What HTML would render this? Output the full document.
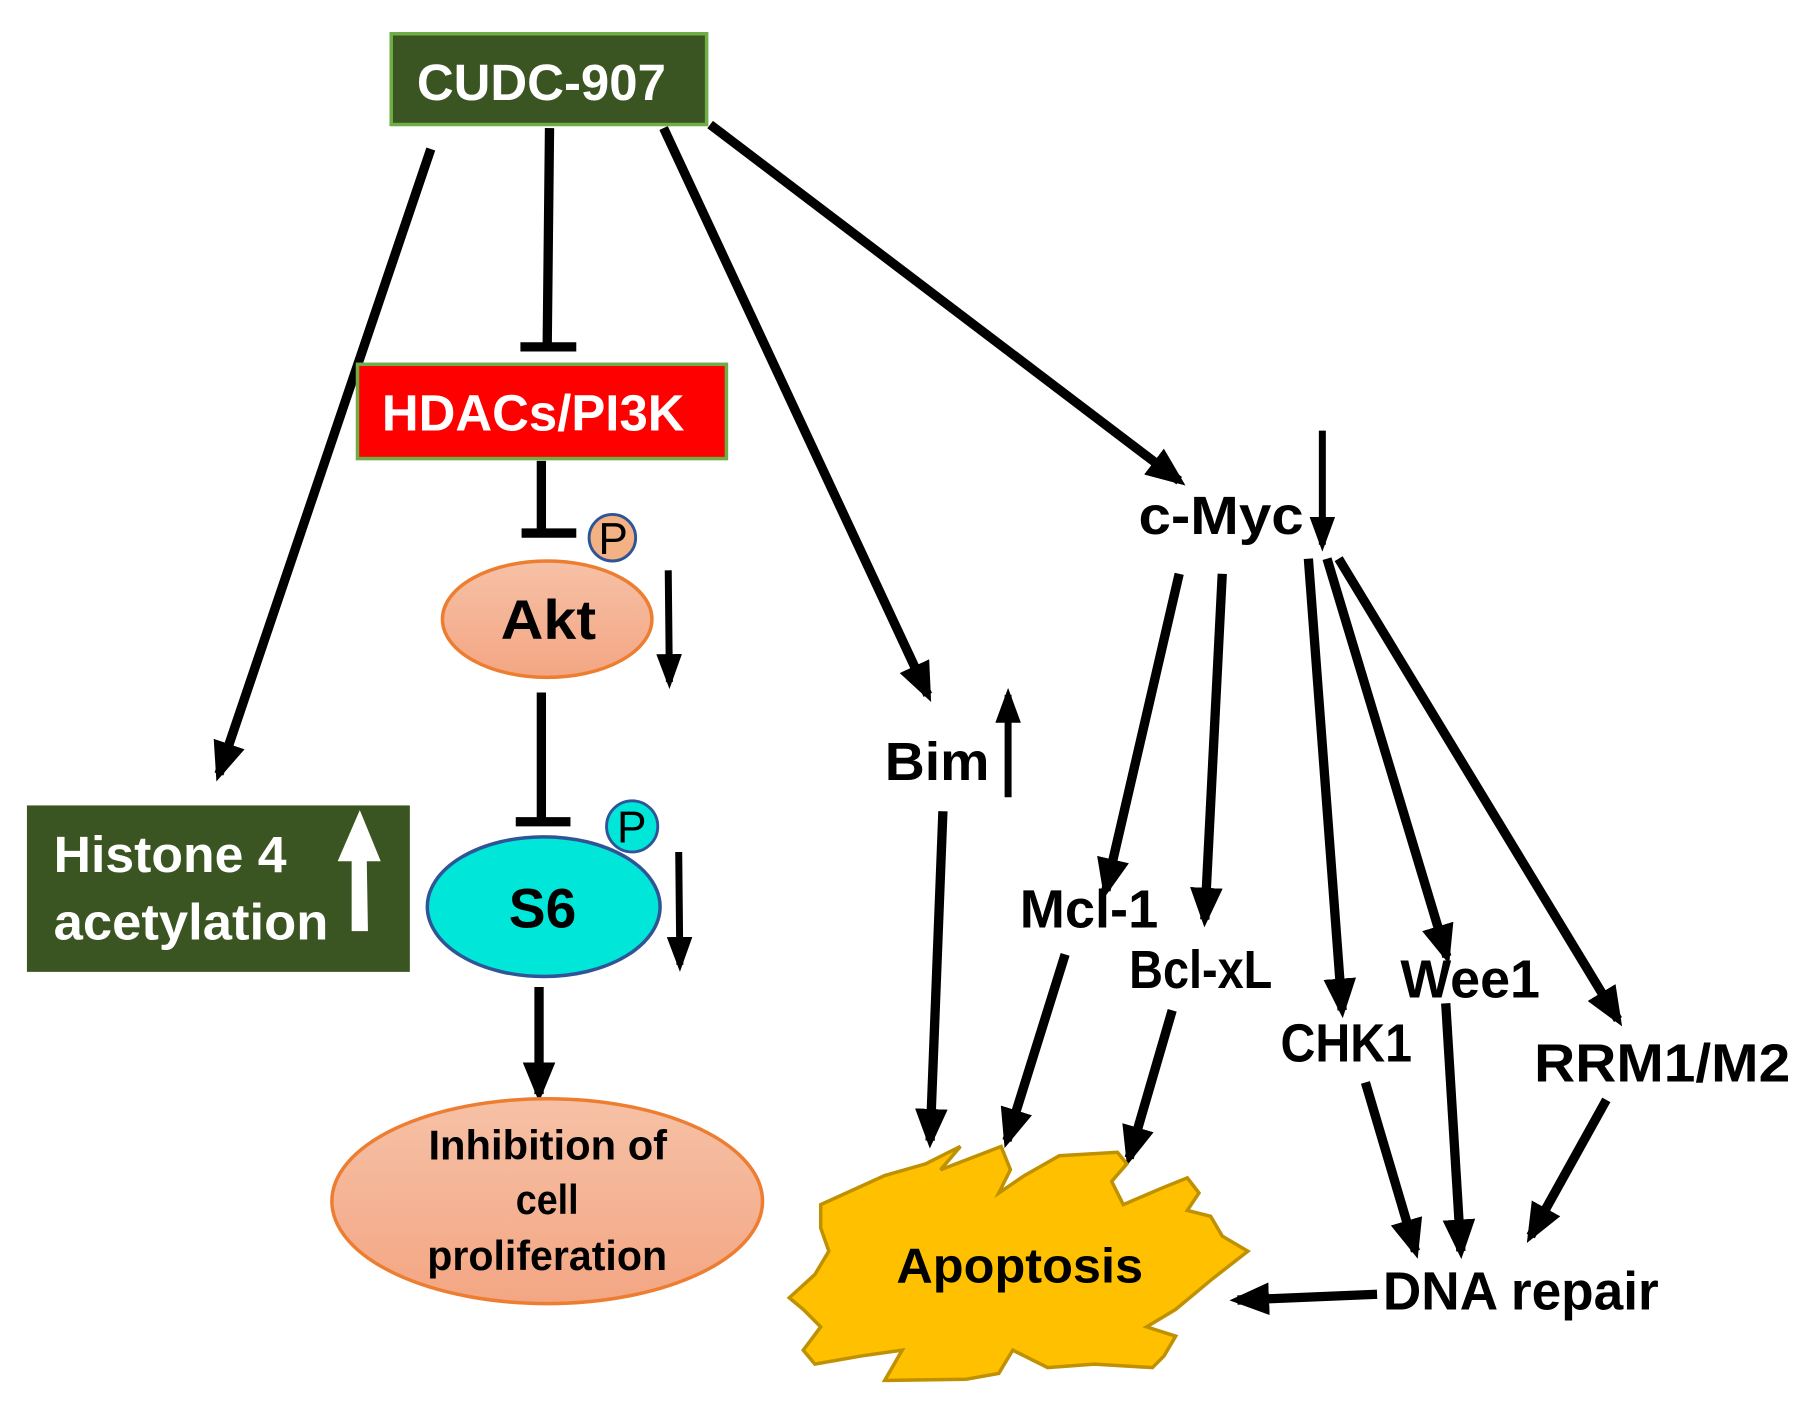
<!DOCTYPE html>
<html><head><meta charset="utf-8"><style>html,body{margin:0;padding:0;background:#fff}svg{display:block}</style></head>
<body>
<svg width="1816" height="1406" viewBox="0 0 1560 1208" xmlns="http://www.w3.org/2000/svg" font-family="'Liberation Sans', sans-serif" font-weight="bold">
<defs>
<marker id="a" viewBox="0 0 10 10" refX="8" refY="5" markerUnits="userSpaceOnUse" markerWidth="34" markerHeight="28" preserveAspectRatio="none" orient="auto"><path d="M0,0 L10,5 L0,10 Z" fill="#000"/></marker>
<marker id="s" viewBox="0 0 10 10" refX="8" refY="5" markerUnits="userSpaceOnUse" markerWidth="30" markerHeight="22" preserveAspectRatio="none" orient="auto"><path d="M0,0 L10,5 L0,10 Z" fill="#000"/></marker>
<linearGradient id="og" x1="0" y1="0" x2="0" y2="1"><stop offset="0" stop-color="#f6c1a6"/><stop offset="1" stop-color="#f3a683"/></linearGradient>
</defs>
<g stroke="#000" stroke-width="8" fill="none">
<line x1="370" y1="128" x2="188" y2="665" marker-end="url(#a)"/>
<line x1="472" y1="110" x2="470" y2="298"/><line x1="447" y1="298" x2="495" y2="298"/>
<line x1="465" y1="396" x2="465" y2="458"/><line x1="448" y1="458" x2="495" y2="458"/>
<line x1="465" y1="595" x2="465" y2="706"/><line x1="443" y1="706" x2="490" y2="706"/>
<line x1="463" y1="848" x2="463" y2="940" marker-end="url(#a)"/>
<line x1="570" y1="110" x2="797" y2="597" marker-end="url(#a)"/>
<line x1="610" y1="107" x2="1013" y2="413" marker-end="url(#a)"/>
<line x1="1013" y1="493" x2="950" y2="765" marker-end="url(#a)"/>
<line x1="1050" y1="493" x2="1035" y2="790" marker-end="url(#a)"/>
<line x1="1124" y1="480" x2="1153" y2="868" marker-end="url(#a)"/>
<line x1="1140" y1="480" x2="1243" y2="822" marker-end="url(#a)"/>
<line x1="1150" y1="480" x2="1390" y2="876" marker-end="url(#a)"/>
<line x1="810" y1="697" x2="799" y2="980" marker-end="url(#a)"/>
<line x1="915" y1="820" x2="865" y2="980" marker-end="url(#a)"/>
<line x1="1007" y1="868" x2="970" y2="995" marker-end="url(#a)"/>
<line x1="1173" y1="930" x2="1216" y2="1075" marker-end="url(#a)"/>
<line x1="1242" y1="862" x2="1255" y2="1075" marker-end="url(#a)"/>
<line x1="1380" y1="945" x2="1315" y2="1062" marker-end="url(#a)"/>
<line x1="1183" y1="1112" x2="1063" y2="1117" marker-end="url(#a)"/>
</g>
<g stroke="#000" stroke-width="6">
<line x1="574" y1="490" x2="575" y2="586" marker-end="url(#s)"/>
<line x1="583" y1="732" x2="584" y2="829" marker-end="url(#s)"/>
<line x1="866" y1="685" x2="866" y2="597" marker-end="url(#s)"/>
<line x1="1136" y1="370" x2="1136" y2="468" marker-end="url(#s)"/>
</g>
<rect x="336" y="29" width="271" height="78" fill="#3a5522" stroke="#70ad47" stroke-width="3"/>
<text x="358" y="86" font-size="44" fill="#fff" textLength="214" lengthAdjust="spacingAndGlyphs">CUDC-907</text>
<rect x="307" y="313" width="317" height="81" fill="#ff0000" stroke="#70ad47" stroke-width="3"/>
<text x="328" y="370" font-size="44" fill="#fff" textLength="260" lengthAdjust="spacingAndGlyphs">HDACs/PI3K</text>
<ellipse cx="470" cy="532" rx="90" ry="50" fill="url(#og)" stroke="#ed7d31" stroke-width="3"/>
<text x="430" y="549" font-size="48" fill="#000" textLength="82" lengthAdjust="spacingAndGlyphs">Akt</text>
<circle cx="526" cy="462" r="20" fill="#f4b183" stroke="#2f5597" stroke-width="2.5"/>
<text x="514" y="476" font-size="38" font-weight="normal" fill="#000">P</text>
<ellipse cx="467" cy="779" rx="100" ry="60" fill="#00e6d8" stroke="#2f5597" stroke-width="3"/>
<text x="437" y="797" font-size="48" fill="#000" textLength="58" lengthAdjust="spacingAndGlyphs">S6</text>
<circle cx="543" cy="710" r="22" fill="#00e6d8" stroke="#2f5597" stroke-width="2.5"/>
<text x="530" y="724" font-size="38" font-weight="normal" fill="#000">P</text>
<ellipse cx="470" cy="1032" rx="185" ry="88" fill="url(#og)" stroke="#ed7d31" stroke-width="3"/>
<text x="368" y="996" font-size="36" fill="#000" textLength="205" lengthAdjust="spacingAndGlyphs">Inhibition of</text>
<text x="443" y="1043" font-size="36" fill="#000" textLength="54" lengthAdjust="spacingAndGlyphs">cell</text>
<text x="367" y="1091" font-size="36" fill="#000" textLength="206" lengthAdjust="spacingAndGlyphs">proliferation</text>
<rect x="23" y="692" width="329" height="143" fill="#3a5522"/>
<text x="46" y="749" font-size="44" fill="#fff" textLength="200" lengthAdjust="spacingAndGlyphs">Histone 4</text>
<text x="46" y="807" font-size="44" fill="#fff" textLength="236" lengthAdjust="spacingAndGlyphs">acetylation</text>
<path d="M302,800 L316,800 L315,740 L327,740 L309,696 L290,740 L302,740 Z" fill="#fff"/>
<path d="M705,1035 L760,1010 L795,1000 L825,985 L808,1005 L860,985 L868,1005 L858,1025 L880,1010 L910,993 L960,990 L968,1000 L955,1015 L965,1035 L1000,1020 L1020,1012 L1030,1025 L1020,1040 L1040,1045 L1050,1062 L1072,1075 L1040,1100 L1010,1125 L985,1140 L1010,1148 L1000,1165 L990,1175 L940,1172 L900,1175 L870,1160 L858,1180 L830,1185 L760,1186 L775,1160 L740,1165 L700,1172 L690,1160 L705,1140 L690,1125 L678,1115 L700,1095 L712,1075 L705,1055 Z" fill="#ffc000" stroke="#bf9000" stroke-width="3"/>
<text x="770" y="1102" font-size="42" fill="#000" textLength="212" lengthAdjust="spacingAndGlyphs">Apoptosis</text>
<g font-size="46" fill="#000">
<text x="760" y="670" textLength="90" lengthAdjust="spacingAndGlyphs">Bim</text>
<text x="978" y="459" textLength="142" lengthAdjust="spacingAndGlyphs">c-Myc</text>
<text x="876" y="797" textLength="119" lengthAdjust="spacingAndGlyphs">Mcl-1</text>
<text x="970" y="849" textLength="123" lengthAdjust="spacingAndGlyphs">Bcl-xL</text>
<text x="1100" y="912" textLength="113" lengthAdjust="spacingAndGlyphs">CHK1</text>
<text x="1203" y="857" textLength="120" lengthAdjust="spacingAndGlyphs">Wee1</text>
<text x="1318" y="929" textLength="220" lengthAdjust="spacingAndGlyphs">RRM1/M2</text>
<text x="1188" y="1125" textLength="237" lengthAdjust="spacingAndGlyphs">DNA repair</text>
</g>
</svg>
</body></html>
